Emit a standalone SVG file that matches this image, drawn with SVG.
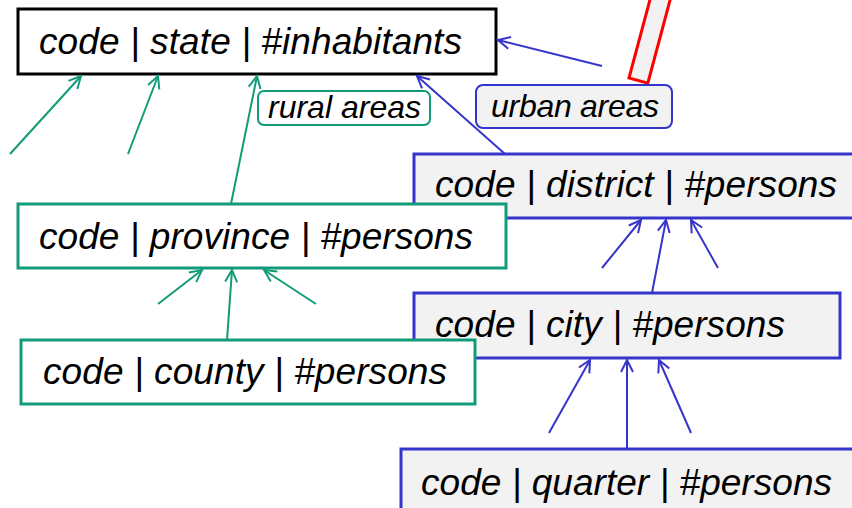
<svg xmlns="http://www.w3.org/2000/svg" width="852" height="508" viewBox="0 0 852 508">
  <defs>
    <style>
      .txt { font-family: "Liberation Sans", Arial, sans-serif; font-style: italic; fill: #000; }
      .big { font-size: 37px; }
      .small { font-size: 32px; }
      .state { fill: #fff; stroke: #000; stroke-width: 3; }
      .rural { fill: #fff; stroke: #129b78; stroke-width: 3; }
      .urban { fill: #f2f2f2; stroke: #3535cc; stroke-width: 3; }
      .rlabel { fill: #fff; stroke: #129b78; stroke-width: 2; }
      .ulabel { fill: #f2f2f2; stroke: #3535cc; stroke-width: 2; }
      .g { stroke: #129b78; stroke-width: 2; fill: none; }
      .b { stroke: #3535cc; stroke-width: 2; fill: none; }
    </style>
    <marker id="ag" markerUnits="userSpaceOnUse" markerWidth="16" markerHeight="16" viewBox="-14 -8 16 16" refX="0" refY="0" orient="auto">
      <path d="M-12,-6 L0,0 L-12,6" fill="none" stroke="#129b78" stroke-width="2"/>
    </marker>
    <marker id="ab" markerUnits="userSpaceOnUse" markerWidth="16" markerHeight="16" viewBox="-14 -8 16 16" refX="0" refY="0" orient="auto">
      <path d="M-12,-6 L0,0 L-12,6" fill="none" stroke="#3535cc" stroke-width="2"/>
    </marker>
  </defs>
  <rect width="852" height="508" fill="#fff"/>

  <!-- tilted red bar -->
  <g id="bar">
    <rect x="0" y="-120" width="19.5" height="120" transform="translate(629,78) rotate(15)" fill="#f2f2f2" stroke="#ff0000" stroke-width="3"/>
  </g>

  <g id="state">
    <rect class="state" x="18" y="9" width="478" height="65"/>
    <text class="txt big" x="39" y="54" textLength="423" lengthAdjust="spacing">code | state | #inhabitants</text>
  </g>

  <g id="district">
    <rect class="urban" x="414" y="154" width="450" height="64"/>
    <text class="txt big" x="435" y="197" textLength="402" lengthAdjust="spacing">code | district | #persons</text>
  </g>

  <g id="province">
    <rect class="rural" x="18" y="204" width="488" height="64"/>
    <text class="txt big" x="39" y="249" textLength="434" lengthAdjust="spacing">code | province | #persons</text>
  </g>

  <g id="city">
    <rect class="urban" x="414" y="293" width="426" height="65"/>
    <text class="txt big" x="435" y="337" textLength="350" lengthAdjust="spacing">code | city | #persons</text>
  </g>

  <g id="county">
    <rect class="rural" x="21" y="340" width="454" height="64"/>
    <text class="txt big" x="43" y="384" textLength="404" lengthAdjust="spacing">code | county | #persons</text>
  </g>

  <g id="quarter">
    <rect class="urban" x="401" y="449" width="463" height="70"/>
    <text class="txt big" x="421" y="495" textLength="411" lengthAdjust="spacing">code | quarter | #persons</text>
  </g>

  <g id="rural-areas">
    <rect class="rlabel" x="258" y="91" width="172" height="34" rx="6"/>
    <text class="txt small" x="268" y="118" textLength="153" lengthAdjust="spacing">rural areas</text>
  </g>

  <g id="urban-areas">
    <rect class="ulabel" x="476" y="85" width="196" height="43" rx="7"/>
    <text class="txt small" x="491" y="117" textLength="168" lengthAdjust="spacing">urban areas</text>
  </g>

  <g id="connectors">
    <!-- into state -->
    <line class="g" x1="10" y1="154" x2="81" y2="76" marker-end="url(#ag)"/>
    <line class="g" x1="128" y1="154" x2="158" y2="76" marker-end="url(#ag)"/>
    <line class="g" x1="231" y1="204" x2="257" y2="76" marker-end="url(#ag)"/>
    <line class="b" x1="505" y1="154" x2="417" y2="76" marker-end="url(#ab)"/>
    <line class="b" x1="602" y1="66" x2="498" y2="40" marker-end="url(#ab)"/>
    <!-- into province -->
    <line class="g" x1="158" y1="304" x2="202" y2="270" marker-end="url(#ag)"/>
    <line class="g" x1="227" y1="340" x2="232" y2="270" marker-end="url(#ag)"/>
    <line class="g" x1="316" y1="304" x2="264" y2="270" marker-end="url(#ag)"/>
    <!-- into district -->
    <line class="b" x1="602" y1="268" x2="641" y2="220" marker-end="url(#ab)"/>
    <line class="b" x1="652" y1="293" x2="666" y2="220" marker-end="url(#ab)"/>
    <line class="b" x1="718" y1="268" x2="691" y2="220" marker-end="url(#ab)"/>
    <!-- into city -->
    <line class="b" x1="549" y1="433" x2="590" y2="360" marker-end="url(#ab)"/>
    <line class="b" x1="627" y1="449" x2="627" y2="360" marker-end="url(#ab)"/>
    <line class="b" x1="691" y1="433" x2="659" y2="360" marker-end="url(#ab)"/>
  </g>
</svg>
